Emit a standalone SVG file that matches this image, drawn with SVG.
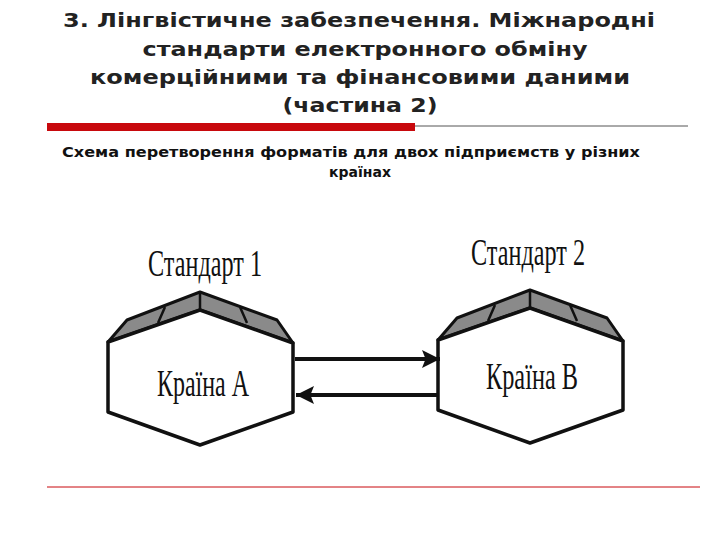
<svg xmlns="http://www.w3.org/2000/svg" width="720" height="540" viewBox="0 0 720 540">
<style>
.t{font-family:"DejaVu Sans",sans-serif;font-weight:bold;font-size:20px;fill:#222;text-anchor:middle}
.s{font-family:"DejaVu Sans",sans-serif;font-weight:bold;font-size:14px;fill:#111}
.n{font-family:"Liberation Serif",serif;font-size:37px;fill:#111}
.roof{fill:#8a8a8a;stroke:#111;stroke-width:3;stroke-linejoin:round}
.body{fill:#fff;stroke:#111;stroke-width:3.5;stroke-linejoin:round}
.c{stroke:#111;stroke-width:4}
</style>
<defs>
<marker id="ah" viewBox="0 0 10 10" refX="10" refY="5" markerWidth="5" markerHeight="4.5" orient="auto" markerUnits="strokeWidth"><path d="M0,0 L10,5 L0,10 L2,5 Z" fill="#111"/></marker>
<g id="hex">
<path class="roof" d="M108,342 L127,320 L200,292 L277,320 L293,343 L200,310 Z"/>
<path d="M158,323 L165,307 M240,307 L247,323 M200,292 L200,310" stroke="#111" stroke-width="2.5" fill="none"/>
<path class="body" d="M108,342 L200,310 L293,343 L293,412 L200,445 L108,412 Z"/>
</g>
</defs>
<rect width="720" height="540" fill="#fff"/>
<text class="t" x="359" y="27" textLength="592" lengthAdjust="spacingAndGlyphs">3. Лінгвістичне забезпечення. Міжнародні</text>
<text class="t" x="365" y="56" textLength="445" lengthAdjust="spacingAndGlyphs">стандарти електронного  обміну</text>
<text class="t" x="360" y="84" textLength="540" lengthAdjust="spacingAndGlyphs">комерційними та фінансовими даними</text>
<text class="t" x="360" y="112" textLength="155" lengthAdjust="spacingAndGlyphs">(частина 2)</text>
<rect x="47" y="123" width="368" height="8" fill="#c8090d"/>
<line x1="415" y1="126" x2="688" y2="126" stroke="#555" stroke-width="1"/>
<text class="s" x="62" y="157" textLength="578" lengthAdjust="spacingAndGlyphs">Схема перетворення форматів  для двох підприємств у різних</text>
<text class="s" x="360" y="177" text-anchor="middle">країнах</text>
<line x1="47" y1="487" x2="700" y2="487" stroke="#c8090d" stroke-width="1"/>
<text class="n" x="148" y="276" textLength="114" lengthAdjust="spacingAndGlyphs">Стандарт 1</text>
<text class="n" x="471" y="265" textLength="114" lengthAdjust="spacingAndGlyphs">Стандарт 2</text>
<g id="nodeA"><use href="#hex"/><text class="n" x="157" y="396" textLength="92" lengthAdjust="spacingAndGlyphs">Країна А</text></g>
<g id="nodeB"><use href="#hex" transform="translate(330,-2)"/><text class="n" x="486" y="389" textLength="92" lengthAdjust="spacingAndGlyphs">Країна В</text></g>
<g id="connectors">
<line class="c" x1="295" y1="359" x2="440" y2="359" marker-end="url(#ah)"/>
<line class="c" x1="437" y1="395" x2="296" y2="395" marker-end="url(#ah)"/>
</g>
</svg>
